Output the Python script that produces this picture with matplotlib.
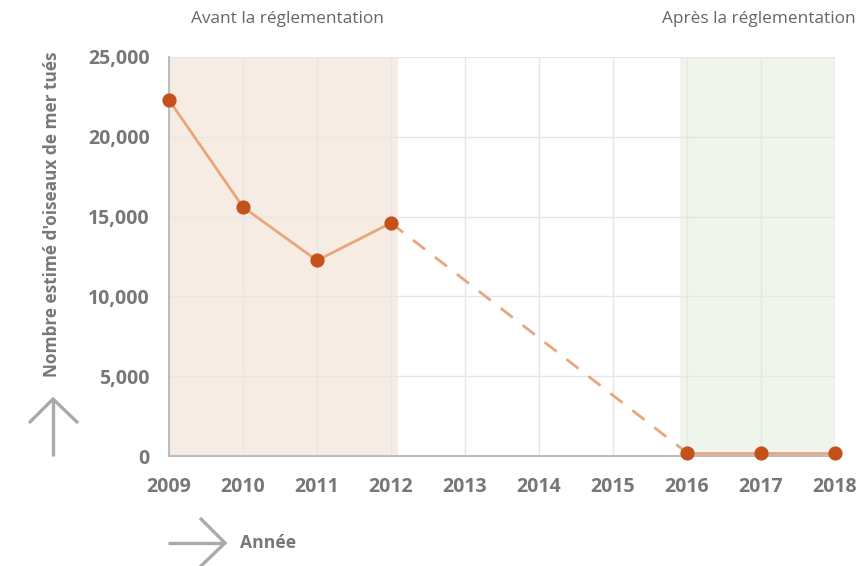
import matplotlib.pyplot as plt
from matplotlib.lines import Line2D

# Nombre estimé d'oiseaux de mer tués par année
annees_avant = [2009, 2010, 2011, 2012]
tues_avant = [22300, 15600, 12250, 14600]
annees_apres = [2016, 2017, 2018]
tues_apres = [200, 200, 200]
annees_ticks = list(range(2009, 2019))
y_ticks = [0, 5000, 10000, 15000, 20000, 25000]

W, H = 858, 566
plt.rcParams['font.family'] = ['Open Sans', 'DejaVu Sans']

fig = plt.figure(figsize=(W / 100, H / 100), dpi=100)
ax = fig.add_axes([169 / W, 1 - 456 / H, (835 - 169) / W, (456 - 57) / H])

# zones avant / après
ax.axvspan(2009, 2012.1, color='#f7ece3', zorder=0, lw=0)
ax.axvspan(2015.9, 2018, color='#eff5ea', zorder=0, lw=0)

ax.set_xlim(2009, 2018)
ax.set_ylim(0, 25000)
ax.set_xticks(annees_ticks)
ax.set_yticks(y_ticks)
ax.set_yticklabels([f'{v:,}' for v in y_ticks])
ax.grid(True, color='#e6e6e6', lw=1, zorder=1)
ax.set_axisbelow(True)

for s in ['top', 'right']:
    ax.spines[s].set_visible(False)
for s in ['left', 'bottom']:
    ax.spines[s].set_color('#bdbdbd')
    ax.spines[s].set_linewidth(1.5)
ax.tick_params(axis='y', length=0, labelsize=14, labelcolor='#777777', pad=14)
ax.tick_params(axis='x', length=0, labelsize=14, labelcolor='#777777', pad=15)
for lab in ax.get_xticklabels() + ax.get_yticklabels():
    lab.set_fontweight('bold')

ligne = '#e8a67c'
point = '#c4511a'
ax.plot(annees_avant, tues_avant, color=ligne, lw=2, zorder=3)
ax.plot([annees_avant[-1], annees_apres[0]], [tues_avant[-1], tues_apres[0]],
        color=ligne, lw=2, ls=(0, (5.5, 4.5)), zorder=3)
ax.plot(annees_apres, tues_apres, color=ligne, lw=2, zorder=3)
ax.scatter(annees_avant + annees_apres, tues_avant + tues_apres, s=85,
           color=point, zorder=4, clip_on=False)

def px(x, y):
    return x / W, 1 - y / H

fig.text(*px(287, 19), 'Avant la réglementation', ha='center', va='center',
         fontsize=12.4, color='#666666')
fig.text(*px(759, 19), 'Après la réglementation', ha='center', va='center',
         fontsize=12.4, color='#666666')
fig.text(*px(52, 214), "Nombre estimé d'oiseaux de mer tués", rotation=90,
         ha='center', va='center', fontsize=12.4, fontweight='bold', color='#777777')
fig.text(*px(240, 543), 'Année', ha='left', va='center',
         fontsize=12.6, fontweight='bold', color='#777777')

# flèches des axes
def trait(pts):
    xs, ys = zip(*[px(x, y) for x, y in pts])
    fig.add_artist(Line2D(xs, ys, color='#aaaaaa', lw=2.4,
                          solid_capstyle='butt', solid_joinstyle='miter'))

trait([(53, 456), (53, 399)])
trait([(29, 423), (53, 399), (78, 423)])
trait([(168, 543), (225, 543)])
trait([(200, 518), (225, 543), (200, 567)])

fig.savefig('out.png', dpi=100)
